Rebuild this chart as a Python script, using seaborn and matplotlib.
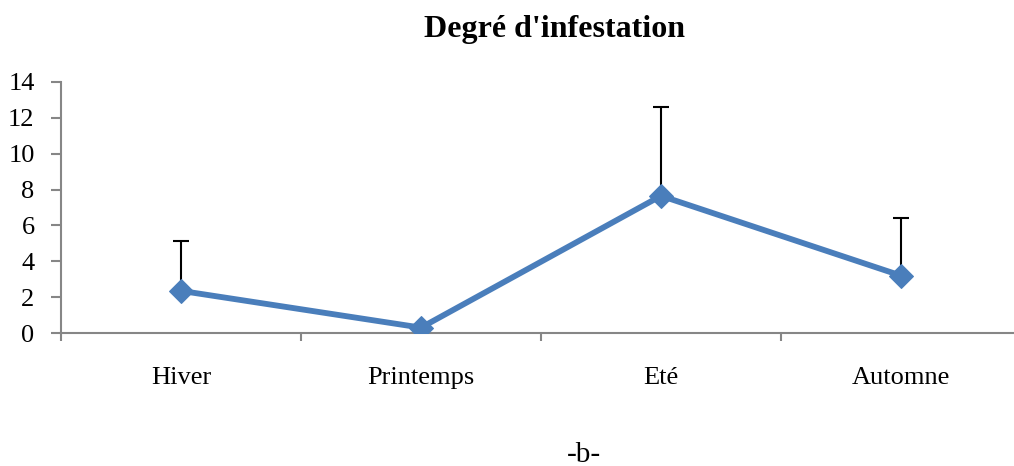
import matplotlib
matplotlib.use("Agg")
import matplotlib.pyplot as plt
import seaborn as sns
import pandas as pd
import numpy as np

categories = ["Hiver", "Printemps", "Eté", "Automne"]
means = [2.35, 0.3, 7.65, 3.2]
errors_up = [2.8, 0.0, 4.95, 3.2]
yticks = [0, 2, 4, 6, 8, 10, 12, 14]
title = "Degré d'infestation"
caption = "-b-"

sns.set_style("white")
plt.rcParams['font.family'] = ['Liberation Serif', 'DejaVu Serif']
plt.rcParams['text.color'] = 'black'
plt.rcParams['xtick.color'] = 'black'
plt.rcParams['ytick.color'] = 'black'

W, H = 1014, 466
fig = plt.figure(figsize=(W / 100, H / 100), dpi=100)
ax = fig.add_axes([61 / W, 133 / H, (W - 61) / W, (333 - 82) / H])

df = pd.DataFrame({"cat": categories, "x": np.arange(len(categories)), "val": means})

ax.errorbar(df["x"], df["val"], yerr=[np.zeros(len(errors_up)), errors_up],
            fmt="none", ecolor="black", elinewidth=1.5, capsize=6, capthick=1.5, zorder=2)
sns.lineplot(data=df, x="x", y="val", ax=ax, color="#4A7EBB", linewidth=4.2,
             marker="D", markersize=12.5, markeredgecolor="#4A7EBB", zorder=3)

ax.set_ylim(0, 14)
ax.set_yticks(yticks)
ax.set_yticklabels([str(t) for t in yticks], fontsize=19, color="black")
ax.set_xlim(-0.5, (W - 61) / 240 - 0.5)
ax.set_xticks([-0.5, 0.5, 1.5, 2.5])
ax.set_xticklabels([])
ax.tick_params(axis="x", which="major", direction="out", length=6, width=1.5, color="#868686", bottom=True)
ax.tick_params(axis="y", which="major", direction="out", length=7, width=1.5, color="#868686", left=True, pad=12)
for i, c in enumerate(categories):
    ax.text(i, -2.5, c, ha="center", va="center", fontsize=19, color="black")
for s in ["top", "right"]:
    ax.spines[s].set_visible(False)
for s in ["left", "bottom"]:
    ax.spines[s].set_color("#868686")
    ax.spines[s].set_linewidth(1.5)
ax.set_xlabel("")
ax.set_ylabel("")
ax.legend_ = None

fig.text(554 / W, 1 - 30 / H, title, ha="center", va="center", fontsize=23, fontweight="bold", color="black")
fig.text(584 / W, 1 - 455 / H, caption, ha="center", va="center", fontsize=21, color="black")

fig.savefig("out.png", dpi=100)
